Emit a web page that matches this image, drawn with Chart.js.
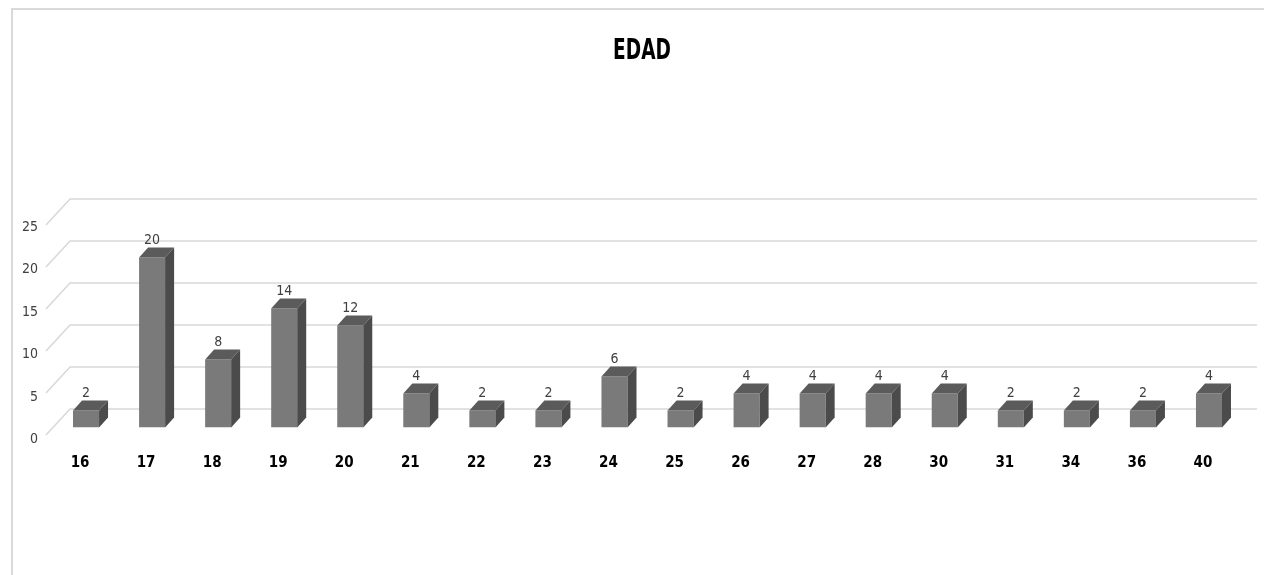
<!DOCTYPE html>
<html lang="es">
<head>
<meta charset="utf-8">
<title>EDAD</title>
<script src="https://cdn.jsdelivr.net/npm/chart.js@4.4.1/dist/chart.umd.min.js"></script>
<style>
  html, body { margin: 0; padding: 0; background: #ffffff; overflow: hidden; }
  #wrap { position: relative; width: 1264px; height: 575px; }
  #frame {
    position: absolute; left: 11px; top: 8px; width: 1400px; height: 700px;
    border-top: 2px solid #d9d9d9; border-left: 2px solid #d9d9d9; box-sizing: border-box;
    pointer-events: none;
  }
  canvas { position: absolute; left: 0; top: 0; }
</style>
</head>
<body>
<div id="wrap">
  <canvas id="chart" width="1264" height="575"></canvas>
  <div id="frame"></div>
</div>
<script>
// Edades (categorías) y número de personas por edad
const edades = ['16', '17', '18', '19', '20', '21', '22', '23', '24', '25', '26', '27', '28', '30', '31', '34', '36', '40'];
const personas = [2, 20, 8, 14, 12, 4, 2, 2, 6, 2, 4, 4, 4, 4, 2, 2, 2, 4];
const titulo = 'EDAD';
const ejeY = { min: 0, max: 25, paso: 5 };

const FONT = "'Liberation Sans Narrow', 'DejaVu Sans Condensed', 'Arial Narrow', sans-serif";

// Oblique depth of the bars (pixels) and of the walls behind them
const barDepth = { dx: 9, dy: -10 };
const walls = { frontX: -7, backX: 17, rightX: 15, frontDy: 7.5, backDy: -18.5, k: 0.988 };
const colors = { front: '#7a7a7a', top: '#5b5b5b', side: '#4b4b4b', grid: '#d9d9d9', label: '#404040' };
// Title placement: centred on the full chart object, drawn narrow
const titleStyle = { x: 642, y: 51, size: 29, squeeze: 0.71 };

// Back-wall gridlines plus the floor/side diagonals, drawn behind the bars
const wallGrid = {
  id: 'wallGrid',
  beforeDatasetsDraw(chart) {
    const { ctx, chartArea, scales } = chart;
    const y = scales.y;
    const base = y.getPixelForValue(0);
    ctx.save();
    ctx.strokeStyle = colors.grid;
    ctx.lineWidth = 1.6;
    y.ticks.forEach(t => {
      const rel = (y.getPixelForValue(t.value) - base) * walls.k;
      const fy = base + walls.frontDy + rel;
      const by = base + walls.backDy + rel;
      ctx.beginPath();
      ctx.moveTo(chartArea.left + walls.frontX, fy);
      ctx.lineTo(chartArea.left + walls.backX, by);
      ctx.lineTo(chartArea.right + walls.rightX, by);
      ctx.stroke();
    });
    ctx.restore();
  }
};

// Top and side faces of each bar, and the value above it
const bars3d = {
  id: 'bars3d',
  afterDatasetsDraw(chart) {
    const { ctx } = chart;
    const meta = chart.getDatasetMeta(0);
    const values = chart.data.datasets[0].data;
    const { dx, dy } = barDepth;
    ctx.save();
    meta.data.forEach((bar, i) => {
      const p = bar.getProps(['x', 'y', 'base', 'width'], true);
      const L = p.x - p.width / 2, R = p.x + p.width / 2, T = p.y, B = p.base;
      ctx.fillStyle = colors.top;
      ctx.beginPath();
      ctx.moveTo(L, T); ctx.lineTo(L + dx, T + dy); ctx.lineTo(R + dx, T + dy); ctx.lineTo(R, T);
      ctx.closePath(); ctx.fill();
      ctx.fillStyle = colors.side;
      ctx.beginPath();
      ctx.moveTo(R, T); ctx.lineTo(R + dx, T + dy); ctx.lineTo(R + dx, B + dy); ctx.lineTo(R, B);
      ctx.closePath(); ctx.fill();

      ctx.fillStyle = colors.label;
      ctx.font = '14px ' + FONT;
      ctx.textAlign = 'center';
      ctx.textBaseline = 'alphabetic';
      ctx.fillText(String(values[i]), p.x, T + dy - 4);
    });
    ctx.restore();
  }
};

// Chart title
const narrowTitle = {
  id: 'narrowTitle',
  afterDraw(chart) {
    const { ctx } = chart;
    ctx.save();
    ctx.translate(titleStyle.x, titleStyle.y);
    ctx.scale(titleStyle.squeeze, 1);
    ctx.fillStyle = '#000000';
    ctx.font = 'bold ' + titleStyle.size + 'px ' + FONT;
    ctx.textAlign = 'center';
    ctx.textBaseline = 'middle';
    ctx.fillText(titulo, 0, 0);
    ctx.restore();
  }
};

new Chart(document.getElementById('chart'), {
  type: 'bar',
  data: {
    labels: edades,
    datasets: [{
      label: titulo,
      data: personas,
      backgroundColor: colors.front,
      borderWidth: 0,
      categoryPercentage: 1,
      barPercentage: 0.394
    }]
  },
  options: {
    responsive: false,
    animation: false,
    devicePixelRatio: 1,
    layout: { padding: { left: 11, right: 22, top: 215, bottom: 0 } },
    plugins: {
      legend: { display: false },
      tooltip: { enabled: false },
      title: { display: false }
    },
    scales: {
      x: {
        grid: { display: false, drawTicks: false },
        border: { display: false },
        ticks: {
          color: '#000000',
          font: { family: FONT, size: 15, weight: 'bold' },
          padding: 27,
          labelOffset: -6,
          maxRotation: 0,
          autoSkip: false
        },
        afterFit(s) { s.height = 147.5; }
      },
      y: {
        min: ejeY.min,
        max: ejeY.max,
        grid: { display: false, drawTicks: false },
        border: { display: false },
        ticks: {
          stepSize: ejeY.paso,
          color: colors.label,
          font: { family: FONT, size: 14 },
          padding: 15,
          labelOffset: 12
        },
        afterFit(s) { s.width = 42; }
      }
    }
  },
  plugins: [wallGrid, bars3d, narrowTitle]
});
</script>
</body>
</html>
